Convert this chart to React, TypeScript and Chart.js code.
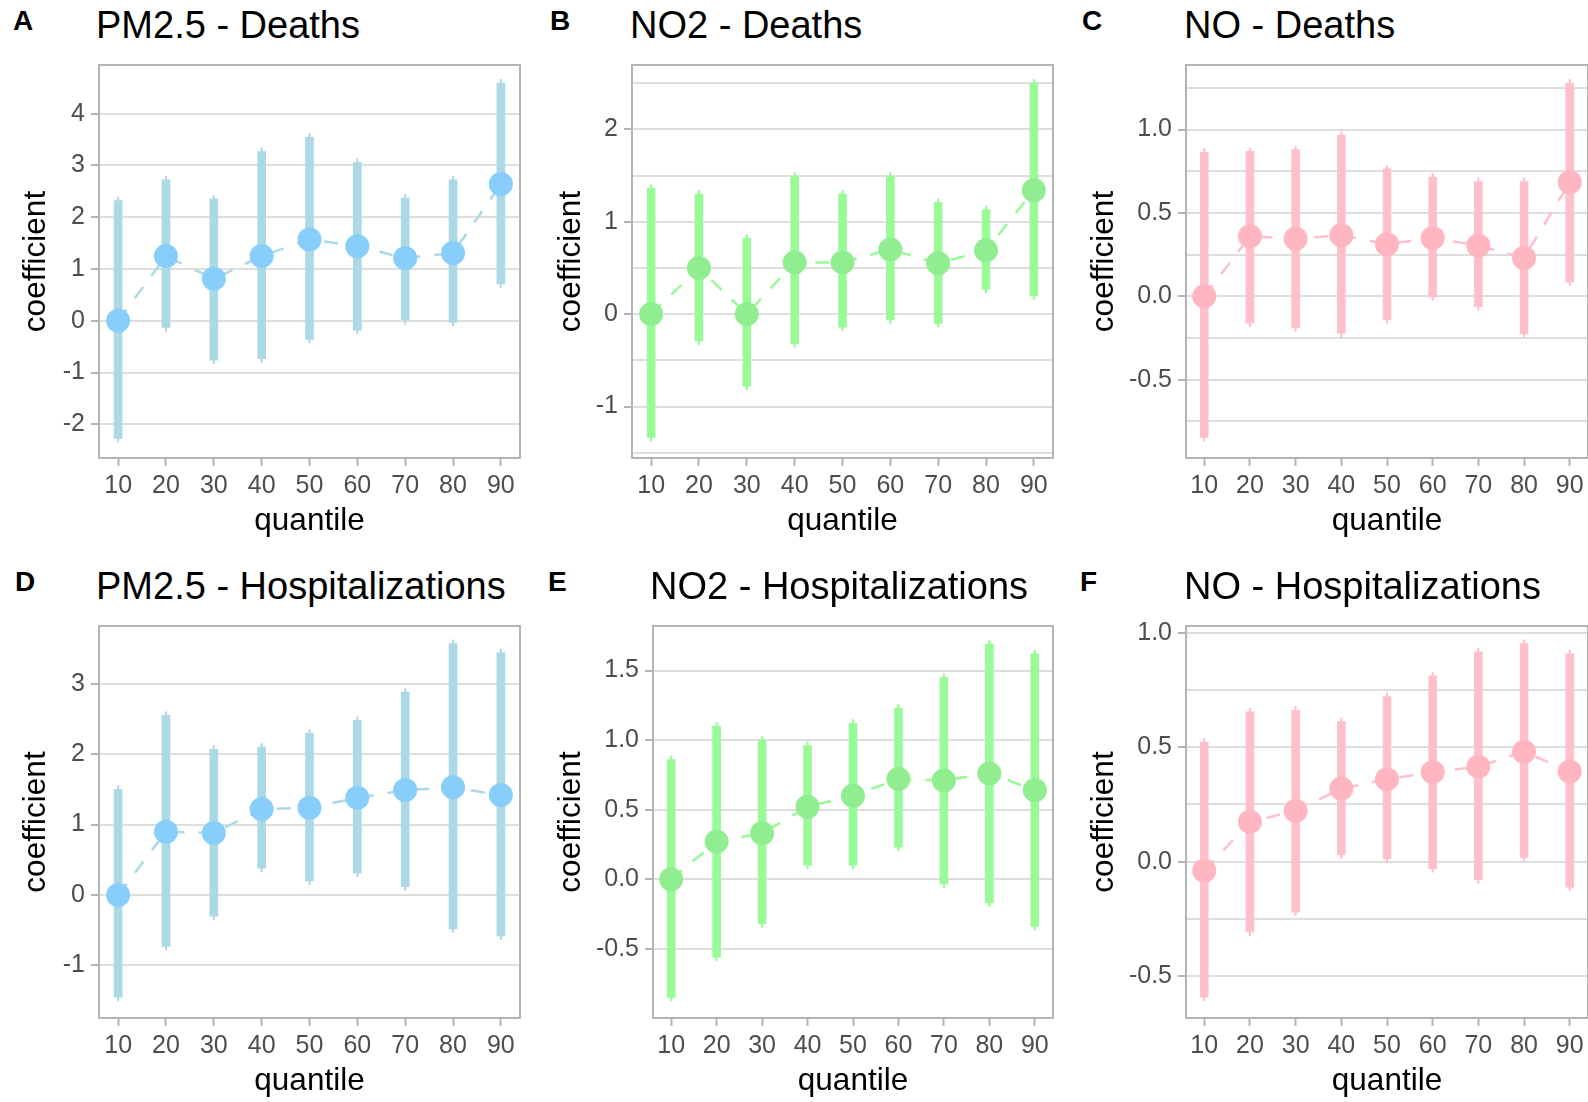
import React, { useEffect, useRef } from "react";
import { Chart, registerables } from "chart.js";

Chart.register(...registerables);

// ---------- data ----------
const quantiles = [10, 20, 30, 40, 50, 60, 70, 80, 90];
const xTicks = [10, 20, 30, 40, 50, 60, 70, 80, 90];

// A: PM2.5 - Deaths
const pmDeathsEst = [0, 1.25, 0.81, 1.25, 1.57, 1.44, 1.21, 1.31, 2.64];
const pmDeathsLo = [-2.27, -0.13, -0.76, -0.73, -0.36, -0.18, 0.0, -0.03, 0.71];
const pmDeathsHi = [2.32, 2.72, 2.35, 3.27, 3.55, 3.06, 2.37, 2.72, 4.59];
const pmDeathsGrid = [-2, -1, 0, 1, 2, 3, 4];
const pmDeathsLabels = [-2, -1, 0, 1, 2, 3, 4];

// B: NO2 - Deaths
const no2DeathsEst = [0, 0.5, 0, 0.56, 0.56, 0.7, 0.55, 0.69, 1.34];
const no2DeathsLo = [-1.335, -0.29, -0.78, -0.32, -0.14, -0.06, -0.1, 0.27, 0.2];
const no2DeathsHi = [1.36, 1.3, 0.82, 1.49, 1.3, 1.49, 1.21, 1.13, 2.5];
const no2DeathsGrid = [-1.5, -1, -0.5, 0, 0.5, 1, 1.5, 2, 2.5];
const no2DeathsLabels = [-1, 0, 1, 2];

// C: NO - Deaths
const noDeathsEst = [0, 0.36, 0.345, 0.366, 0.312, 0.349, 0.304, 0.23, 0.684];
const noDeathsLo = [-0.847, -0.16, -0.189, -0.222, -0.14, -0.004, -0.062, -0.226, 0.086];
const noDeathsHi = [0.863, 0.869, 0.879, 0.966, 0.764, 0.715, 0.688, 0.688, 1.278];
const noDeathsGrid = [-0.75, -0.5, -0.25, 0, 0.25, 0.5, 0.75, 1, 1.25];
const noDeathsLabels = [-0.5, 0, 0.5, 1];

// D: PM2.5 - Hospitalizations
const pmHospEst = [0, 0.9, 0.88, 1.22, 1.24, 1.38, 1.49, 1.53, 1.42];
const pmHospLo = [-1.45, -0.73, -0.3, 0.38, 0.2, 0.31, 0.12, -0.48, -0.58];
const pmHospHi = [1.5, 2.55, 2.07, 2.1, 2.3, 2.48, 2.88, 3.57, 3.44];
const pmHospGrid = [-1, 0, 1, 2, 3];
const pmHospLabels = [-1, 0, 1, 2, 3];

// E: NO2 - Hospitalizations
const no2HospEst = [0, 0.27, 0.33, 0.52, 0.6, 0.72, 0.71, 0.76, 0.64];
const no2HospLo = [-0.85, -0.56, -0.32, 0.1, 0.1, 0.23, -0.035, -0.17, -0.34];
const no2HospHi = [0.86, 1.1, 1.0, 0.96, 1.12, 1.23, 1.45, 1.69, 1.62];
const no2HospGrid = [-0.5, 0, 0.5, 1, 1.5];
const no2HospLabels = [-0.5, 0, 0.5, 1, 1.5];

// F: NO - Hospitalizations
const noHospEst = [-0.04, 0.174, 0.222, 0.319, 0.36, 0.391, 0.415, 0.48, 0.394];
const noHospLo = [-0.592, -0.307, -0.22, 0.03, 0.012, -0.03, -0.078, 0.017, -0.111];
const noHospHi = [0.522, 0.654, 0.661, 0.612, 0.721, 0.811, 0.916, 0.952, 0.907];
const noHospGrid = [-0.5, -0.25, 0, 0.25, 0.5, 0.75, 1];
const noHospLabels = [-0.5, 0, 0.5, 1];

// ---------- styles ----------
const FONT = "'Liberation Sans', Arial, Helvetica, sans-serif";
const BLUE_BAR = "#ADD8E6";
const BLUE_PT = "#87CEFA";
const GREEN_BAR = "#98FB98";
const GREEN_PT = "#90EE90";
const PINK_BAR = "#FFC0CB";
const PINK_PT = "#FFB6C1";

type Spec = {
  letter: string;
  title: string;
  col: number;
  rowTop: number;
  plotLeft: number;
  plotRight: number;
  plotTop: number;
  plotBottom: number;
  yMin: number;
  yMax: number;
  grid: number[];
  labels: number[];
  decimals: number;
  est: number[];
  lo: number[];
  hi: number[];
  barColor: string;
  ptColor: string;
  yTitleMid: number;
  letterX: number;
  titleX: number;
};

const TOP = { rowTop: 0, plotTop: 64, plotBottom: 458 };
const BOT = { rowTop: 560.4, plotTop: 625, plotBottom: 1018 };

const specs: Spec[] = [
  { letter: "A", title: "PM2.5 - Deaths", col: 0, plotLeft: 99, plotRight: 522, ...TOP, yMin: -2.65, yMax: 4.94, grid: pmDeathsGrid, labels: pmDeathsLabels, decimals: 0, est: pmDeathsEst, lo: pmDeathsLo, hi: pmDeathsHi, barColor: BLUE_BAR, ptColor: BLUE_PT, yTitleMid: 36.4, letterX: 13, titleX: 96 },
  { letter: "B", title: "NO2 - Deaths", col: 530, plotLeft: 632, plotRight: 1055, ...TOP, yMin: -1.557, yMax: 2.696, grid: no2DeathsGrid, labels: no2DeathsLabels, decimals: 0, est: no2DeathsEst, lo: no2DeathsLo, hi: no2DeathsHi, barColor: GREEN_BAR, ptColor: GREEN_PT, yTitleMid: 571.5, letterX: 550, titleX: 630 },
  { letter: "C", title: "NO - Deaths", col: 1060, plotLeft: 1186, plotRight: 1590, ...TOP, yMin: -0.97, yMax: 1.387, grid: noDeathsGrid, labels: noDeathsLabels, decimals: 1, est: noDeathsEst, lo: noDeathsLo, hi: noDeathsHi, barColor: PINK_BAR, ptColor: PINK_PT, yTitleMid: 1104, letterX: 1082, titleX: 1184 },
  { letter: "D", title: "PM2.5 - Hospitalizations", col: 0, plotLeft: 99, plotRight: 522, ...BOT, yMin: -1.746, yMax: 3.82, grid: pmHospGrid, labels: pmHospLabels, decimals: 0, est: pmHospEst, lo: pmHospLo, hi: pmHospHi, barColor: BLUE_BAR, ptColor: BLUE_PT, yTitleMid: 36.4, letterX: 15, titleX: 96 },
  { letter: "E", title: "NO2 - Hospitalizations", col: 530, plotLeft: 653, plotRight: 1055, ...BOT, yMin: -0.998, yMax: 1.82, grid: no2HospGrid, labels: no2HospLabels, decimals: 1, est: no2HospEst, lo: no2HospLo, hi: no2HospHi, barColor: GREEN_BAR, ptColor: GREEN_PT, yTitleMid: 571.5, letterX: 548, titleX: 650 },
  { letter: "F", title: "NO - Hospitalizations", col: 1060, plotLeft: 1186, plotRight: 1590, ...BOT, yMin: -0.6825, yMax: 1.029, grid: noHospGrid, labels: noHospLabels, decimals: 1, est: noHospEst, lo: noHospLo, hi: noHospHi, barColor: PINK_BAR, ptColor: PINK_PT, yTitleMid: 1104, letterX: 1080, titleX: 1184 },
];

const PAD_TOP = 20;
const PAD_RIGHT = 10;
const X_AXIS_H = 84;
const AXIS_TITLE_SIZE = 31.5;
const TICK_SIZE = 25;
const TICK_LEN = 8;

function makeDecor(s: Spec) {
  return {
    id: "panelDecor" + s.letter,
    beforeDatasetsDraw(chart: any) {
      const { ctx, scales, chartArea } = chart;
      const x = scales.x;
      const y = scales.y;
      ctx.save();
      ctx.beginPath();
      ctx.rect(chartArea.left, chartArea.top, chartArea.right - chartArea.left, chartArea.bottom - chartArea.top);
      ctx.clip();
      ctx.strokeStyle = s.barColor;
      ctx.lineWidth = 2;
      quantiles.forEach((q, i) => {
        const px = x.getPixelForValue(q);
        ctx.beginPath();
        ctx.moveTo(px, y.getPixelForValue(s.lo[i]) + 4);
        ctx.lineTo(px, y.getPixelForValue(s.hi[i]) - 4);
        ctx.stroke();
      });
      ctx.restore();
    },
    afterDraw(chart: any) {
      const { ctx, chartArea } = chart;
      ctx.save();
      ctx.strokeStyle = "#B3B3B3";
      ctx.lineWidth = 2;
      ctx.strokeRect(chartArea.left, chartArea.top, chartArea.right - chartArea.left, chartArea.bottom - chartArea.top);
      ctx.restore();
    },
  };
}

function Panel({ s }: { s: Spec }) {
  const ref = useRef<HTMLCanvasElement>(null);
  const cLeft = s.col;
  const cTop = s.plotTop - PAD_TOP;
  const cW = s.plotRight + PAD_RIGHT - s.col;
  const cH = s.plotBottom - s.plotTop + PAD_TOP + X_AXIS_H;
  const yAxisW = s.plotLeft - s.col;

  useEffect(() => {
    const canvas = ref.current;
    if (!canvas) return;
    const labelSet = new Set(s.labels);
    const lineH = AXIS_TITLE_SIZE * 1.2;
    const chart = new Chart(canvas, {
      type: "bar",
      data: {
        datasets: [
          {
            type: "scatter",
            data: quantiles.map((q, i) => ({ x: q, y: s.est[i] })),
            pointRadius: 12,
            pointHoverRadius: 12,
            pointBackgroundColor: s.ptColor,
            pointBorderWidth: 0,
            borderWidth: 0,
            showLine: false,
            order: 0,
          } as any,
          {
            type: "bar",
            data: quantiles.map((q, i) => ({ x: q, y: [s.lo[i], s.hi[i]] })),
            backgroundColor: s.barColor,
            borderWidth: 0,
            barThickness: 8,
            order: 1,
          } as any,
          {
            type: "line",
            data: quantiles.map((q, i) => ({ x: q, y: s.est[i] })),
            borderColor: s.barColor,
            borderWidth: 2.5,
            borderDash: [14, 14],
            pointRadius: 0,
            fill: false,
            tension: 0,
            order: 2,
          } as any,
        ],
      },
      options: {
        animation: false,
        responsive: false,
        events: [],
        layout: { padding: { top: PAD_TOP, right: PAD_RIGHT, left: 0, bottom: 0 } },
        plugins: { legend: { display: false }, tooltip: { enabled: false } },
        scales: {
          x: {
            type: "linear",
            min: 6,
            max: 94,
            offset: false,
            afterBuildTicks: (scale: any) => {
              scale.ticks = xTicks.map((v) => ({ value: v }));
            },
            afterFit: (scale: any) => {
              scale.height = X_AXIS_H;
            },
            grid: {
              display: true,
              offset: false,
              drawOnChartArea: false,
              drawTicks: true,
              tickLength: TICK_LEN,
              tickColor: "#B3B3B3",
              tickWidth: 2,
            },
            border: { display: false },
            ticks: {
              autoSkip: false,
              maxRotation: 0,
              padding: 5,
              color: "#4D4D4D",
              font: { family: FONT, size: TICK_SIZE },
              callback: (v: any) => String(v),
            },
            title: {
              display: true,
              text: "quantile",
              color: "#000000",
              font: { family: FONT, size: AXIS_TITLE_SIZE },
              padding: { top: 0, bottom: 2 },
            },
          },
          y: {
            type: "linear",
            min: s.yMin,
            max: s.yMax,
            afterBuildTicks: (scale: any) => {
              scale.ticks = s.grid.map((v) => ({ value: v }));
            },
            afterFit: (scale: any) => {
              scale.width = yAxisW;
            },
            grid: {
              display: true,
              color: "#DEDEDE",
              lineWidth: 2,
              drawOnChartArea: true,
              drawTicks: true,
              tickLength: TICK_LEN,
              tickWidth: 2,
              tickColor: (ctx: any) =>
                ctx.tick && labelSet.has(ctx.tick.value) ? "#B3B3B3" : "rgba(0,0,0,0)",
            },
            border: { display: false },
            ticks: {
              autoSkip: false,
              padding: 6,
              color: "#4D4D4D",
              font: { family: FONT, size: TICK_SIZE },
              callback: (v: any) => (labelSet.has(Number(v)) ? Number(v).toFixed(s.decimals) : ""),
            },
            title: {
              display: true,
              text: "coefficient",
              color: "#000000",
              font: { family: FONT, size: AXIS_TITLE_SIZE },
              padding: { top: s.yTitleMid - s.col - lineH / 2, bottom: 0 },
            },
          },
        },
      } as any,
      plugins: [makeDecor(s)],
    });
    return () => chart.destroy();
  }, []);

  return (
    <>
      <div
        style={{
          position: "absolute",
          left: s.letterX,
          top: s.rowTop + 7.2,
          fontFamily: FONT,
          fontWeight: "bold",
          fontSize: 28,
          lineHeight: "28px",
          color: "#000",
          whiteSpace: "nowrap",
        }}
      >
        {s.letter}
      </div>
      <div
        style={{
          position: "absolute",
          left: s.titleX,
          top: s.rowTop + 6.4,
          fontFamily: FONT,
          fontSize: 38,
          lineHeight: "38px",
          color: "#000",
          whiteSpace: "nowrap",
        }}
      >
        {s.title}
      </div>
      <canvas
        ref={ref}
        width={cW}
        height={cH}
        style={{ position: "absolute", left: cLeft, top: cTop, width: cW, height: cH }}
      />
    </>
  );
}

export default function App() {
  return (
    <div
      style={{
        position: "fixed",
        left: 0,
        top: 0,
        width: 1588,
        height: 1102,
        overflow: "hidden",
        background: "#FFFFFF",
      }}
    >
      {specs.map((s) => (
        <Panel key={s.letter} s={s} />
      ))}
    </div>
  );
}
